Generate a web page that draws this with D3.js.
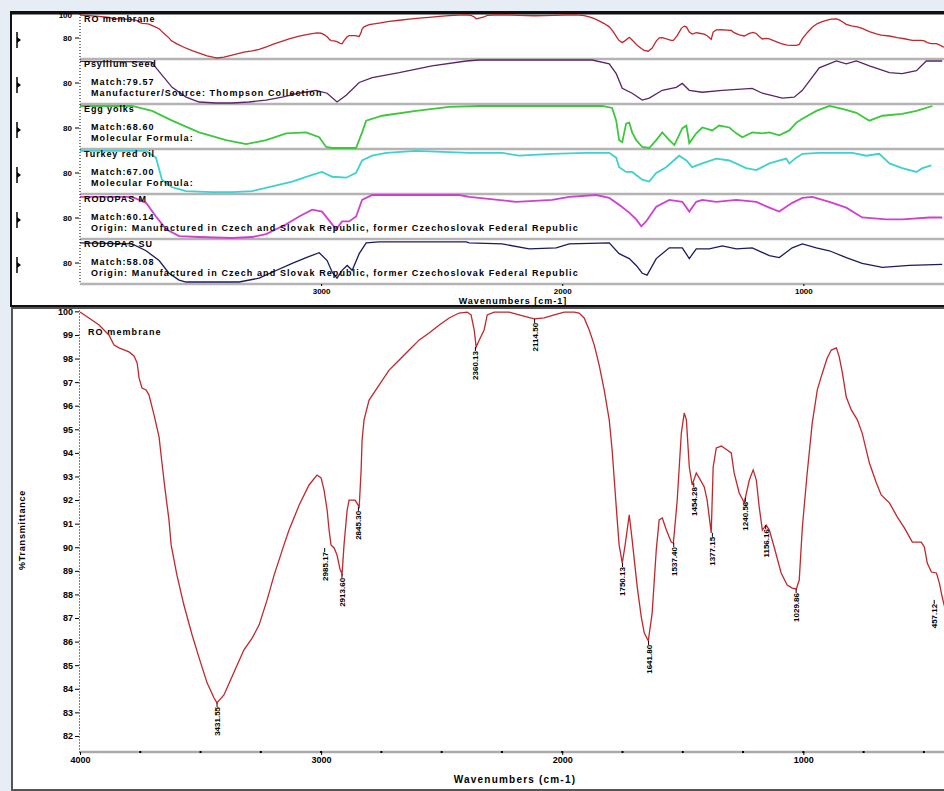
<!DOCTYPE html>
<html>
<head>
<meta charset="utf-8">
<script src="https://cdn.jsdelivr.net/npm/d3@7"></script>
<style>
  body { margin: 0; background: #e6edf5; }
  svg { display: block; font-family: "Liberation Sans", Arial, sans-serif; font-weight: bold; }
</style>
</head>
<body>
<svg id="chart"></svg>
<script>
// Spectra: [wavenumber cm-1, %T]
const roMembrane = [[4000,99.97],[3963,99.72],[3921,99.42],[3880,99.00],[3859,98.57],[3838,98.45],[3797,98.28],[3776,98.11],[3763,97.81],[3755,97.18],[3743,96.75],[3726,96.67],[3714,96.46],[3693,95.61],[3672,94.67],[3660,93.57],[3647,92.43],[3631,91.16],[3622,90.10],[3598,88.82],[3569,87.55],[3535,86.28],[3506,85.31],[3473,84.25],[3444,83.61],[3432,83.40],[3403,83.74],[3361,84.71],[3320,85.65],[3286,86.15],[3257,86.71],[3224,87.77],[3195,88.82],[3154,90.10],[3133,90.73],[3091,91.79],[3050,92.64],[3017,93.06],[3000,92.94],[2988,92.43],[2975,91.58],[2967,90.73],[2959,90.10],[2946,89.97],[2934,89.67],[2921,89.04],[2913,88.87],[2905,90.10],[2892,91.58],[2884,92.00],[2859,92.00],[2842,91.71],[2834,93.28],[2830,94.55],[2822,95.40],[2801,96.24],[2759,96.88],[2718,97.51],[2676,97.94],[2635,98.36],[2593,98.79],[2552,99.08],[2510,99.42],[2469,99.72],[2428,99.93],[2394,99.97],[2378,99.85],[2365,99.21],[2357,98.49],[2344,98.79],[2324,99.21],[2311,99.85],[2282,99.97],[2220,99.97],[2179,99.85],[2116,99.68],[2075,99.72],[2033,99.85],[1992,99.97],[1950,99.97],[1930,99.93],[1909,99.72],[1888,99.21],[1867,98.57],[1847,97.73],[1826,96.67],[1805,95.40],[1793,94.12],[1784,92.85],[1772,91.16],[1764,90.10],[1751,89.33],[1739,90.10],[1722,91.37],[1710,90.31],[1689,88.32],[1672,87.04],[1660,86.37],[1643,86.03],[1627,87.21],[1610,89.88],[1598,91.16],[1585,91.24],[1568,90.73],[1548,90.22],[1539,90.18],[1523,92.00],[1506,94.84],[1494,95.69],[1485,95.40],[1473,93.40],[1461,92.64],[1444,93.15],[1432,92.94],[1411,92.56],[1399,92.00],[1382,90.61],[1374,93.40],[1361,94.21],[1340,94.29],[1316,94.12],[1299,94.00],[1287,93.15],[1266,92.30],[1245,91.88],[1224,92.85],[1208,93.28],[1195,92.85],[1183,91.71],[1170,90.73],[1154,90.94],[1141,90.73],[1121,90.01],[1092,88.91],[1067,88.40],[1046,88.27],[1029,88.23],[1017,88.61],[1004,90.86],[984,93.15],[963,95.27],[942,96.67],[921,97.39],[901,98.02],[884,98.36],[863,98.45],[851,98.07],[838,97.39],[822,96.37],[801,95.82],[776,95.40],[756,94.84],[726,93.57],[697,92.72],[677,92.22],[643,91.88],[610,91.28],[581,90.82],[548,90.22],[511,90.22],[498,90.01],[486,89.33],[469,88.95],[448,88.91],[436,88.49],[424,87.89],[410,87.30]];

// Library matches, normalized transmittance (0-100 within each strip)
const psylliumSeed = [[4000,97],[3705,95.5],[3618,36.4],[3560,13.6],[3506,2.3],[3436,0],[3369,0],[3299,2.3],[3228,6.8],[3162,13.6],[3091,22.7],[3021,29.5],[2975,22.7],[2934,2.3],[2896,18.2],[2842,47.7],[2788,59.1],[2676,70.5],[2540,86.4],[2398,97.7],[2345,100],[1876,100],[1805,90.9],[1776,68.2],[1751,34.1],[1710,22.7],[1668,6.8],[1639,11.4],[1585,29.5],[1527,36.4],[1502,45.5],[1473,29.5],[1419,25],[1336,29.5],[1212,34.1],[1170,22.7],[1087,11.4],[1038,13.6],[1004,29.5],[934,81.8],[863,97.7],[822,90.9],[780,97.7],[726,86.4],[643,70.5],[590,68.2],[531,75],[490,97.7],[424,97.7]];
const eggYolks = [[4000,97.7],[3784,97.7],[3701,86.4],[3618,63.6],[3506,36.4],[3394,18.2],[3311,9.1],[3228,18.2],[3145,34.1],[3062,36.4],[3008,25],[2979,2.3],[2954,0],[2855,0],[2830,36.4],[2813,63.6],[2747,75],[2606,86.4],[2469,95.5],[2345,97.7],[1834,97.7],[1793,93.2],[1776,63.6],[1764,18.2],[1751,13.6],[1735,56.8],[1722,59.1],[1710,36.4],[1693,18.2],[1668,2.3],[1639,0],[1610,18.2],[1585,36.4],[1556,18.2],[1535,6.8],[1502,45.5],[1485,52.3],[1473,11.4],[1444,34.1],[1419,47.7],[1378,40.9],[1349,52.3],[1307,47.7],[1278,34.1],[1253,25],[1212,36.4],[1170,34.1],[1141,36.4],[1100,29.5],[1058,40.9],[1029,59.1],[1004,68.2],[946,86.4],[892,97.7],[838,90.9],[780,81.8],[726,63.6],[672,75],[590,79.5],[531,86.4],[465,97.7]];
const turkeyRedOil = [[4000,97.8],[3726,97.8],[3685,82.2],[3660,31.1],[3618,13.3],[3560,4.4],[3452,2.2],[3369,2.2],[3286,4.4],[3203,15.6],[3120,26.7],[3037,42.2],[2996,48.9],[2954,37.8],[2896,35.6],[2855,46.7],[2830,75.6],[2788,86.7],[2730,93.3],[2606,97.8],[2386,93.3],[2249,93.3],[2179,86.7],[2042,91.1],[1901,93.3],[1805,93.3],[1776,82.2],[1764,60],[1735,48.9],[1710,48.9],[1668,31.1],[1639,26.7],[1610,46.7],[1569,60],[1515,86.7],[1485,75.6],[1461,60],[1419,68.9],[1361,80],[1307,75.6],[1237,57.8],[1195,53.3],[1141,68.9],[1071,80],[1058,68.9],[1029,82.2],[1004,91.1],[934,93.3],[797,93.3],[739,86.7],[685,91.1],[643,68.9],[590,57.8],[531,48.9],[506,57.8],[469,64.4]];
const rodopasM = [[4000,95.5],[3784,95.5],[3726,81.8],[3685,50],[3643,20.5],[3589,4.5],[3506,2.3],[3369,0],[3286,2.3],[3228,9.1],[3145,31.8],[3091,50],[3037,65.9],[2996,61.4],[2954,31.8],[2938,20.5],[2913,38.6],[2884,38.6],[2855,50],[2830,88.6],[2788,100],[2428,100],[2386,95.5],[2191,84.1],[2042,88.6],[1971,95.5],[1859,100],[1805,93.2],[1764,77.3],[1722,59.1],[1693,43.2],[1672,27.3],[1652,38.6],[1610,72.7],[1556,88.6],[1502,84.1],[1473,61.4],[1444,84.1],[1419,88.6],[1361,84.1],[1278,88.6],[1195,84.1],[1141,70.5],[1100,61.4],[1046,81.8],[1004,93.2],[963,95.5],[892,84.1],[822,70.5],[756,47.7],[656,43.2],[590,43.2],[477,47.7],[424,47.7]];
const rodopasSU = [[4000,93.2],[3784,90.9],[3726,75],[3672,52.3],[3631,22.7],[3589,6.8],[3560,2.3],[3340,2.3],[3257,11.4],[3203,25],[3120,45.5],[3062,59.1],[3008,70.5],[2975,52.3],[2954,25],[2934,11.4],[2913,29.5],[2892,40.9],[2871,29.5],[2842,68.2],[2813,93.2],[2759,95.5],[2398,95.5],[2386,93.2],[2249,90.9],[2137,79.5],[2025,81.8],[1971,90.9],[1805,93.2],[1764,68.2],[1722,56.8],[1693,40.9],[1668,22.7],[1648,18.2],[1610,56.8],[1556,81.8],[1502,81.8],[1473,56.8],[1444,79.5],[1390,79.5],[1336,86.4],[1278,79.5],[1212,81.8],[1141,63.6],[1100,59.1],[1046,81.8],[1004,90.9],[946,81.8],[892,75],[822,59.1],[756,45.5],[672,36.4],[560,40.9],[424,43.2]];

// Strip texts
const stripNames = ["RO membrane", "Psyllium Seed", "Egg yolks", "Turkey red oil", "RODOPAS M", "RODOPAS SU"];
const stripMatch = ["", "Match:79.57", "Match:68.60", "Match:67.00", "Match:60.14", "Match:58.08"];
const stripInfo = ["",
  "Manufacturer/Source:  Thompson Collection",
  "Molecular Formula:",
  "Molecular Formula:",
  "Origin:  Manufactured in Czech and Slovak Republic, former Czechoslovak Federal Republic",
  "Origin:  Manufactured in Czech and Slovak Republic, former Czechoslovak Federal Republic"];
const stripColors = ["#c0282d", "#5a2466", "#3cc83c", "#3fd0d0", "#d040d0", "#1c1c5c"];

// Peak picks on the RO membrane spectrum
const peakWave = [3431.55, 2985.17, 2913.60, 2845.30, 2360.13, 2114.50, 1750.13, 1641.80, 1537.40, 1454.28, 1377.15, 1240.56, 1156.16, 1029.86, 457.12];
const peakT = [83.40, 89.97, 88.87, 91.71, 98.49, 99.68, 89.33, 86.03, 90.18, 92.72, 90.61, 92.10, 90.94, 88.23, 87.77];

// Ticks
const xMajor = [4000, 3000, 2000, 1000];
const xMinor = d3.range(3750, 400, -250);
const yTicks = d3.range(82, 101);

const W = 944, H = 791;
const svg = d3.select("#chart").attr("width", W).attr("height", H);

svg.append("rect").attr("width", W).attr("height", H).attr("fill", "#e6edf5");

const x = d3.scaleLinear().domain([4000, 400]).range([80, 948]);

// ---------- top panel: search result strips ----------
svg.append("rect")
  .attr("x", 11).attr("y", 12).attr("width", 960).attr("height", 294)
  .attr("fill", "#fff").attr("stroke", "#111").attr("stroke-width", 2);
svg.append("line").attr("x1", 11).attr("x2", W).attr("y1", 13).attr("y2", 13)
  .attr("stroke", "#111").attr("stroke-width", 3);

const defs = svg.append("defs");
defs.append("clipPath").attr("id", "clipTop")
  .append("rect").attr("x", 80).attr("y", 14).attr("width", 880).attr("height", 271);
defs.append("clipPath").attr("id", "clipBot")
  .append("rect").attr("x", 80).attr("y", 309).attr("width", 880).attr("height", 443);

const series = [roMembrane, psylliumSeed, eggYolks, turkeyRedOil, rodopasM, rodopasSU];
const stripH = 45, stripTop0 = 14;

const topG = svg.append("g");

series.forEach((data, i) => {
  const t = stripTop0 + i * stripH;
  const dom = i === 0 ? d3.extent(data, d => d[1]) : [0, 100];
  const ys = d3.scaleLinear().domain(dom).range([t + 44, t + 1]);

  // separator
  topG.append("line")
    .attr("x1", 80).attr("x2", W).attr("y1", t + stripH).attr("y2", t + stripH)
    .attr("stroke", "#b4b4b4").attr("stroke-width", 2.5);

  topG.append("path")
    .datum(data)
    .attr("clip-path", "url(#clipTop)")
    .attr("fill", "none")
    .attr("stroke", stripColors[i])
    .attr("stroke-width", i === 2 || i === 3 || i === 4 ? 1.8 : 1.3)
    .attr("d", d3.line().x(d => x(d[0])).y(d => ys(d[1])));

  // strip labels
  topG.append("text").attr("x", 84).attr("y", t + 8)
    .attr("font-size", 9).attr("letter-spacing", 0.9).text(stripNames[i]);
  if (stripMatch[i]) {
    topG.append("text").attr("x", 91).attr("y", t + 26)
      .attr("font-size", 9).attr("letter-spacing", 1.1).text(stripMatch[i]);
    topG.append("text").attr("x", 91).attr("y", t + 37)
      .attr("font-size", 9).attr("letter-spacing", 1.1).text(stripInfo[i]);
  }

  // y tick per strip
  topG.append("text").attr("x", 72).attr("y", t + 27)
    .attr("text-anchor", "end").attr("font-size", 8).text("80");
  topG.append("line").attr("x1", 75).attr("x2", 79).attr("y1", t + 24).attr("y2", t + 24)
    .attr("stroke", "#000");

  // strip marker on the far left
  const c = t + 26;
  topG.append("line").attr("x1", 17).attr("x2", 17).attr("y1", c - 8).attr("y2", c + 8)
    .attr("stroke", "#000").attr("stroke-width", 1.5);
  topG.append("path").attr("d", `M17,${c - 3} L21,${c} L17,${c + 3} Z`).attr("fill", "#000");
});

topG.append("text").attr("x", 72).attr("y", 18).attr("text-anchor", "end")
  .attr("font-size", 8).text("100");

topG.append("line").attr("x1", 80).attr("x2", 80).attr("y1", 14).attr("y2", 284)
  .attr("stroke", "#000").attr("stroke-dasharray", "1,2");

const xAxisTop = d3.axisBottom(x).tickValues([3000, 2000, 1000])
  .tickFormat(d3.format("d")).tickSize(2).tickSizeOuter(0);
const gxt = svg.append("g").attr("transform", "translate(0,284)").call(xAxisTop);
gxt.select(".domain").remove();
gxt.selectAll("text").attr("font-size", 8).attr("font-family", "Liberation Sans, Arial")
  .attr("font-weight", "bold").attr("y", 4);

svg.append("text").attr("x", 513).attr("y", 304).attr("text-anchor", "middle")
  .attr("font-size", 9).attr("letter-spacing", 1).text("Wavenumbers [cm-1]");

// ---------- bottom panel: RO membrane spectrum ----------
svg.append("rect")
  .attr("x", 12).attr("y", 308).attr("width", 960).attr("height", 482)
  .attr("fill", "#fff").attr("stroke", "#555").attr("stroke-width", 2);

const y = d3.scaleLinear().domain([81.32, 100.1]).range([752, 309]);

const yAxis = d3.axisLeft(y).tickValues(yTicks).tickFormat(d3.format("d"))
  .tickSize(4).tickSizeOuter(0);
const gy = svg.append("g").attr("transform", "translate(79,0)").call(yAxis);
gy.select(".domain").attr("stroke-dasharray", "1,2").attr("stroke", "#000");
gy.selectAll("text").attr("font-size", 9).attr("font-family", "Liberation Sans, Arial")
  .attr("font-weight", "bold").attr("x", -6);

svg.append("line").attr("x1", 80).attr("x2", W).attr("y1", 752).attr("y2", 752)
  .attr("stroke", "#aaa").attr("stroke-width", 2.5);

const xAxis = d3.axisBottom(x).tickValues(xMajor).tickFormat(d3.format("d"))
  .tickSize(3).tickSizeOuter(0);
const gx = svg.append("g").attr("transform", "translate(0,752)").call(xAxis);
gx.select(".domain").remove();
gx.selectAll("text").attr("font-size", 9).attr("font-family", "Liberation Sans, Arial")
  .attr("font-weight", "bold").attr("y", 5);

svg.append("g").selectAll("rect").data(xMinor).enter().append("rect")
  .attr("x", d => x(d) - 1).attr("y", 751).attr("width", 2).attr("height", 2)
  .attr("fill", "#000");

svg.append("text").attr("x", 515).attr("y", 783).attr("text-anchor", "middle")
  .attr("font-size", 10).attr("letter-spacing", 1.2).text("Wavenumbers (cm-1)");

svg.append("text").attr("transform", "translate(25,530) rotate(-90)")
  .attr("text-anchor", "middle").attr("font-size", 9).attr("letter-spacing", 0.8)
  .text("%Transmittance");

svg.append("text").attr("x", 88).attr("y", 335).attr("font-size", 9)
  .attr("letter-spacing", 1.1).text("RO membrane");

svg.append("path")
  .datum(roMembrane)
  .attr("clip-path", "url(#clipBot)")
  .attr("fill", "none")
  .attr("stroke", "#c0282d")
  .attr("stroke-width", 1.3)
  .attr("d", d3.line().x(d => x(d[0])).y(d => y(d[1])));

// peak labels
const peaks = svg.append("g");
peakWave.forEach((w, i) => {
  const px = x(w), py = y(peakT[i]);
  peaks.append("line").attr("x1", px).attr("x2", px).attr("y1", py).attr("y2", py + 4)
    .attr("stroke", "#000");
  peaks.append("text")
    .attr("transform", `translate(${px + 3},${py + 4}) rotate(-90)`)
    .attr("text-anchor", "end").attr("font-size", 8)
    .text(w.toFixed(2));
});
</script>
</body>
</html>
